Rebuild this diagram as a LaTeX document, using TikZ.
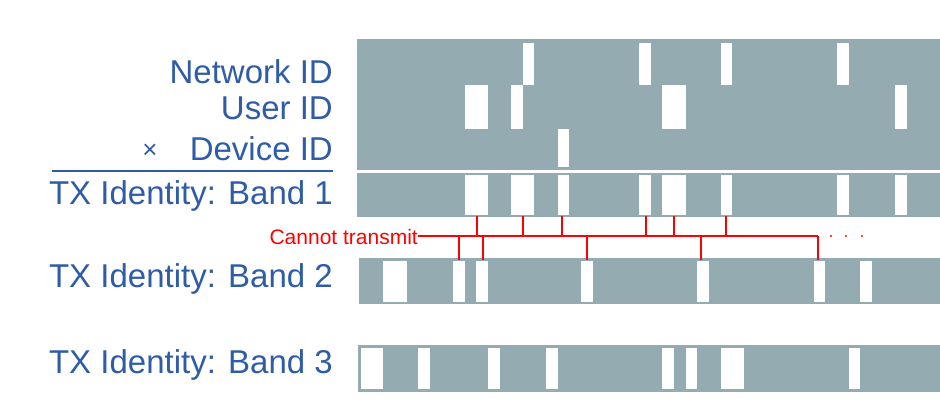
\documentclass[tikz,border=0pt]{standalone}
\usepackage{fontspec}
\setmainfont{Liberation Sans}
\begin{document}
\begin{tikzpicture}[x=1pt,y=-1pt,
  lbl/.style={anchor=base east,inner sep=0pt,text=blue!50!black!60!cyan!30!blue,font=\fontsize{33}{36}\selectfont},
  gap/.style={fill=white},
  bar/.style={fill=barc}]
\definecolor{barc}{HTML}{94ACB1}
\definecolor{lblc}{HTML}{2E5CA6}
\tikzset{lbl/.style={anchor=base east,inner sep=0pt,text=lblc,font=\fontsize{33}{36}\selectfont}}
\useasboundingbox (0,0) rectangle (940,410);
% top block
\fill[bar] (357,39) rectangle (940,170);
\foreach \a/\b in {523/534,639/651,721/732,837/849} \fill[gap] (\a,43) rectangle (\b,85);
\foreach \a/\b in {465/488,511/523,662/686,895/907} \fill[gap] (\a,85) rectangle (\b,129);
\fill[gap] (558,129) rectangle (569,167);
% band 1
\fill[bar] (357,173) rectangle (940,217);
\foreach \a/\b in {465/488,511/534,558/569,639/651,662/686,721/732,837/849,895/907} \fill[gap] (\a,175) rectangle (\b,215);
% band 2
\fill[bar] (359,258) rectangle (940,304);
\foreach \a/\b in {383/407,453/465,476/488,581/593,697/709,814/825,860/872} \fill[gap] (\a,261) rectangle (\b,302);
% band 3
\fill[bar] (358,345) rectangle (940,392);
\foreach \a/\b in {361/383,418/430,488/500,546/558,662/674,686/697,721/744,849/860} \fill[gap] (\a,348) rectangle (\b,389);
% labels
\node[lbl] (nid) at (333,83) {Network ID};
\node[lbl] (uid) at (333,119) {User ID};
\node[lbl] (did) at (333,160) {Device ID};
\node[anchor=base,inner sep=0pt,text=lblc,font=\fontsize{26}{30}\selectfont] (times) at (150,158) {×};
\draw[lblc,line width=2pt] (52,171) -- (333,171);
\node[lbl] (b1) at (333,204) {TX Identity: Band 1};
\node[lbl] (b2) at (333,287) {TX Identity: Band 2};
\node[lbl] (b3) at (333,373) {TX Identity: Band 3};
% cannot transmit
\node[anchor=base east,inner sep=0pt,text=red,font=\fontsize{21}{24}\selectfont] (ct) at (418,244) {Cannot transmit};
\coordinate (ctend) at (818,236);
\draw[red,line width=2pt] (ct.east |- 0,236) -- (ctend);
\foreach \x in {477,523,562,646,674,726} \draw[red,line width=2pt] (\x,216) -- (\x,236);
\foreach \x in {459,483,587,701,818} \draw[red,line width=2pt] (\x,236) -- (\x,260);
\foreach \x in {831,846,862} \fill[red] (\x,236) circle (1.2);
\end{tikzpicture}
\end{document}
